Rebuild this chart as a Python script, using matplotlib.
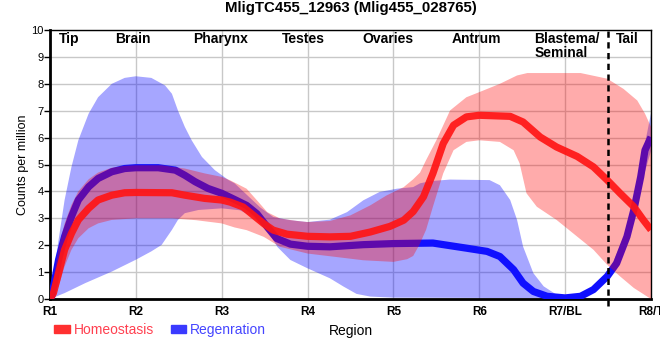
import matplotlib
matplotlib.use("Agg")
import matplotlib.pyplot as plt
from matplotlib.patches import Patch
import numpy as np

plt.rcParams['font.family'] = ['Liberation Sans', 'DejaVu Sans']

# Tick labels and region names
tick_labels = ['R1', 'R2', 'R3', 'R4', 'R5', 'R6', 'R7/BL', 'R8/T']
region_names = ['Tip', 'Brain', 'Pharynx', 'Testes', 'Ovaries', 'Antrum', 'Blastema/\nSeminal', 'Tail']
region_pos = [0.22, 0.97, 1.99, 2.95, 3.94, 4.97, 5.64, 6.72]

# Homeostasis mean
homeo_x = [0, 0.04, 0.1, 0.17, 0.25, 0.33, 0.45, 0.56, 0.72, 0.87, 1.0, 1.42, 1.57, 1.8, 2.0,
           2.1, 2.25, 2.37, 2.49, 2.6, 2.76, 3.0, 3.26, 3.5, 3.73, 3.96, 4.12, 4.23, 4.35,
           4.46, 4.58, 4.7, 4.85, 5.0, 5.36, 5.51, 5.71, 5.9, 6.14, 6.33, 6.49, 6.64, 6.8,
           6.91, 7.0]
homeo_y = [0, 0.22, 0.96, 1.83, 2.44, 2.94, 3.37, 3.68, 3.86, 3.95, 3.96, 3.95, 3.86, 3.74, 3.68,
           3.6, 3.42, 3.11, 2.8, 2.56, 2.41, 2.33, 2.31, 2.33, 2.49, 2.7, 2.93, 3.25, 3.8,
           4.67, 5.78, 6.46, 6.77, 6.83, 6.79, 6.58, 6.02, 5.65, 5.3, 4.91, 4.42, 3.93, 3.43,
           2.94, 2.57]

# Homeostasis band
homeo_up_x = [0, 0.1, 0.17, 0.25, 0.33, 0.45, 0.56, 0.72, 0.87, 1.0, 1.3, 1.57, 1.8, 2.0, 2.1,
              2.29, 2.41, 2.53, 2.68, 2.88, 3.0, 3.26, 3.5, 3.73, 3.92, 4.12, 4.23, 4.31, 4.38,
              4.5, 4.66, 4.85, 5.0, 5.24, 5.44, 5.56, 6.18, 6.49, 6.68, 6.84, 6.93, 7.0]
homeo_up_y = [0, 1.9, 2.8, 3.5, 4.0, 4.45, 4.7, 4.88, 4.95, 4.97, 4.97, 4.85, 4.67, 4.54, 4.41,
              4.1, 3.67, 3.23, 2.99, 2.9, 2.86, 2.9, 3.11, 3.48, 3.85, 4.16, 4.45, 4.7, 5.16,
              5.9, 7.01, 7.5, 7.69, 8.0, 8.31, 8.4, 8.4, 8.19, 7.81, 7.38, 6.89, 6.4]
homeo_lo_x = [0, 0.1, 0.17, 0.25, 0.33, 0.45, 0.56, 0.72, 1.0, 1.42, 1.7, 2.0, 2.15, 2.29, 2.49,
              2.68, 3.0, 3.26, 3.65, 4.0, 4.16, 4.23, 4.3, 4.38, 4.46, 4.58, 4.7, 4.85, 5.0,
              5.24, 5.4, 5.47, 5.55, 5.67, 5.9, 6.14, 6.33, 6.49, 6.64, 6.8, 7.0]
homeo_lo_y = [0, 0.47, 1.21, 1.83, 2.26, 2.63, 2.81, 2.94, 3.0, 3.0, 2.93, 2.81, 2.66, 2.56, 2.31,
              1.94, 1.69, 1.59, 1.44, 1.38, 1.48, 1.6, 2.0, 2.57, 3.43, 4.67, 5.53, 5.84, 5.9,
              5.84, 5.53, 5.04, 3.93, 3.43, 2.94, 2.32, 1.83, 1.27, 0.84, 0.41, 0.0]

# Regeneration mean
regen_x = [0, 0.02, 0.1, 0.17, 0.25, 0.33, 0.45, 0.56, 0.72, 0.87, 1.0, 1.26, 1.46, 1.57, 1.69,
           1.84, 2.0, 2.15, 2.29, 2.41, 2.53, 2.64, 2.8, 3.0, 3.26, 3.65, 4.0, 4.46, 4.85, 5.09,
           5.24, 5.4, 5.51, 5.63, 5.79, 6.0, 6.18, 6.33, 6.49, 6.6, 6.72, 6.8, 6.88, 6.93, 7.0]
regen_y = [0, 0.1, 1.46, 2.32, 3.06, 3.68, 4.17, 4.48, 4.73, 4.85, 4.88, 4.88, 4.79, 4.6, 4.36,
           4.11, 3.93, 3.7, 3.48, 3.17, 2.68, 2.25, 2.04, 1.96, 1.94, 2.02, 2.06, 2.08, 1.89, 1.77,
           1.58, 1.09, 0.59, 0.28, 0.1, 0.04, 0.1, 0.35, 0.84, 1.33, 2.32, 3.31, 4.54, 5.53, 6.02]

# Regeneration band
regen_up_x = [0, 0.1, 0.17, 0.25, 0.33, 0.45, 0.56, 0.72, 0.87, 1.0, 1.18, 1.34, 1.42, 1.49,
              1.57, 1.65, 1.77, 1.92, 2.08, 2.15, 2.3, 2.45, 2.6, 2.8, 3.0, 3.26, 3.46, 3.65,
              3.84, 4.04, 4.23, 4.31, 4.43, 4.66, 5.12, 5.24, 5.36, 5.44, 5.51, 5.63, 5.75,
              5.9, 6.0, 6.18, 6.33, 6.5, 6.72, 6.88, 7.0]
regen_up_y = [0, 2.2, 3.68, 4.91, 5.9, 6.89, 7.5, 8.0, 8.22, 8.28, 8.22, 7.94, 7.63, 7.01,
              6.4, 5.9, 5.28, 4.79, 4.42, 4.3, 3.85, 3.4, 3.05, 2.93, 2.86, 2.95, 3.23, 3.67,
              3.98, 4.1, 4.16, 4.3, 4.38, 4.44, 4.42, 4.23, 3.68, 2.94, 1.95, 0.96, 0.47,
              0.16, 0.1, 0.15, 0.42, 0.92, 2.6, 5.0, 6.9]
regen_lo_x = [0, 0.17, 0.41, 0.72, 1.0, 1.18, 1.3, 1.42, 1.49, 1.57, 1.73, 2.0, 2.21, 2.37, 2.53,
              2.65, 2.8, 3.0, 3.26, 3.42, 3.57, 3.73, 4.0, 5.0, 6.0, 6.18, 6.33, 6.5, 6.72,
              6.88, 7.0]
regen_lo_y = [0, 0.22, 0.59, 1.02, 1.46, 1.77, 2.01, 2.57, 2.94, 3.19, 3.31, 3.37, 3.3, 3.05, 2.56,
              1.93, 1.45, 1.14, 0.77, 0.46, 0.19, 0.09, 0.05, 0.04, 0.02, 0.05, 0.28, 0.76, 2.1,
              4.2, 5.5]

red = '#ff0000'
blue = '#0000ff'

fig = plt.figure(figsize=(6.6, 3.6), dpi=100)
ax = fig.add_axes([50 / 660, 61 / 360, 601 / 660, 269 / 360])

ax.fill(np.concatenate([regen_up_x, regen_lo_x[::-1]]),
        np.concatenate([regen_up_y, regen_lo_y[::-1]]),
        color=blue, alpha=0.35, lw=0, zorder=2)
ax.plot(regen_x, regen_y, color='#1010ff', lw=5.2, solid_capstyle='butt',
        solid_joinstyle='round', zorder=3)
ax.fill(np.concatenate([homeo_up_x, homeo_lo_x[::-1]]),
        np.concatenate([homeo_up_y, homeo_lo_y[::-1]]),
        color=red, alpha=0.33, lw=0, zorder=4)
ax.plot(homeo_x, homeo_y, color='#ff1515', alpha=0.92, lw=5.2, solid_capstyle='butt',
        solid_joinstyle='round', zorder=5)

ax.axvline(6.5, ymin=-0.025, ymax=1, color='black', lw=1.8, ls=(0, (2.5, 1.8)),
           clip_on=False, zorder=6)

for name, xp in zip(region_names, region_pos):
    if '\n' in name:
        ax.text(xp, 9.93, name, ha='left', va='top', fontsize=10, fontweight='bold',
                linespacing=1.0, zorder=7)
    else:
        ax.text(xp, 9.93, name, ha='center', va='top', fontsize=10, fontweight='bold', zorder=7)

ax.set_xlim(0, 7)
ax.set_ylim(0, 10)
ax.set_xticks(range(len(tick_labels)))
ax.set_xticklabels(tick_labels, fontsize=8.5, fontweight='bold')
ax.set_yticks(range(11))
ax.tick_params(axis='y', labelsize=8, length=4, width=1, pad=0.5)
ax.tick_params(axis='x', length=0, pad=5)
ax.grid(True, color='#c8c8c8', lw=1, zorder=0)
ax.set_axisbelow(True)

for side in ['left', 'bottom']:
    ax.spines[side].set_linewidth(2)
for side in ['top', 'right']:
    ax.spines[side].set_linewidth(1)

ax.set_ylabel('Counts per million', fontsize=9, labelpad=2)
ax.set_xlabel('Region', fontsize=10, labelpad=4)

ax.set_title('MligTC455_12963 (Mlig455_028765)', fontsize=10.8, fontweight='bold', pad=13)

handles = [Patch(color='#ff3030'), Patch(color='#3a3aff')]
fig.legend(handles, ['Homeostasis', 'Regenration'], loc='lower left',
           bbox_to_anchor=(0.072, 0.045), ncol=2, frameon=False, fontsize=10,
           handlelength=1.1, handleheight=0.55, handletextpad=0.3, columnspacing=1.2,
           labelcolor=['#ff4050', '#4545ff'], borderpad=0)

fig.savefig('out.png', dpi=100)
